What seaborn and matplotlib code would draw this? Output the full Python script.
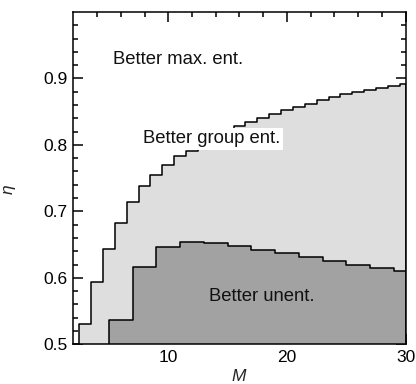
import numpy as np
import matplotlib
matplotlib.use("Agg")
import matplotlib.pyplot as plt
import seaborn as sns

# Boundary between "group ent." and "max. ent." (one value per M)
M_upper = list(range(3, 31))
eta_upper = [0.530, 0.593, 0.644, 0.683, 0.714, 0.738, 0.755, 0.770, 0.783, 0.791,
             0.803, 0.812, 0.820, 0.828, 0.835, 0.841, 0.846, 0.852, 0.857, 0.862,
             0.867, 0.872, 0.876, 0.880, 0.883, 0.886, 0.889, 0.891]
edges_upper = [m - 0.5 for m in M_upper] + [30]

# Boundary between "unent." and "group ent." (even M only)
M_lower = [6, 8, 10, 12, 14, 16, 18, 20, 22, 24, 26, 28, 30]
eta_lower = [0.537, 0.617, 0.647, 0.654, 0.653, 0.648, 0.642, 0.637, 0.631,
             0.626, 0.620, 0.615, 0.611]
edges_lower = [m - 1 for m in M_lower] + [30]

sns.set_style("ticks")
plt.rcParams['font.family'] = ['Liberation Sans', 'DejaVu Sans']
plt.rcParams['mathtext.fontset'] = 'custom'
plt.rcParams['mathtext.it'] = 'Liberation Sans:italic'

fig = plt.figure(figsize=(4.16, 3.84), dpi=100)
ax = fig.add_axes([0.1762, 0.1034, 0.7990, 0.8654])

sns.histplot(x=M_upper, weights=eta_upper, bins=edges_upper, element="step",
             fill=True, color="#dedede", alpha=1, edgecolor="black", linewidth=1.1, ax=ax)
sns.histplot(x=M_lower, weights=eta_lower, bins=edges_lower, element="step",
             fill=True, color="#a2a2a2", alpha=1, edgecolor="black", linewidth=1.1, ax=ax)

ax.set_xlim(2, 30)
ax.set_ylim(0.5, 1.0)
ax.set_xticks([10, 20, 30])
ax.set_xticks(np.arange(4, 30, 2), minor=True)
ax.set_yticks([0.5, 0.6, 0.7, 0.8, 0.9])
ax.set_yticks(np.arange(0.52, 1.0, 0.02), minor=True)
ax.set_yticklabels(["0.5", "0.6", "0.7", "0.8", "0.9"])
ax.tick_params(which="both", direction="in", top=True, right=True, width=1.1,
               labelsize=12.5, color="black", labelcolor="black")
ax.tick_params(which="major", length=7, pad=4)
ax.tick_params(which="minor", length=3.5)
for s in ax.spines.values():
    s.set_linewidth(1.1)
    s.set_color("black")
    s.set_zorder(5)

ax.set_xlabel("$M$", fontsize=12.5, labelpad=2)
ax.set_ylabel(r"$\eta$", fontsize=12.5)
ax.yaxis.set_label_coords(-0.165, 0.465)

ax.text(5.35, 0.929, "Better max. ent.", fontsize=13.3, va="center", ha="left", color="#111111")
ax.text(7.85, 0.809, "Better group ent.", fontsize=13.3, va="center", ha="left", color="#111111",
        bbox=dict(facecolor="white", edgecolor="none", pad=2))
ax.text(13.4, 0.572, "Better unent.", fontsize=13.3, va="center", ha="left", color="#111111")

fig.savefig("out.png", dpi=100)
